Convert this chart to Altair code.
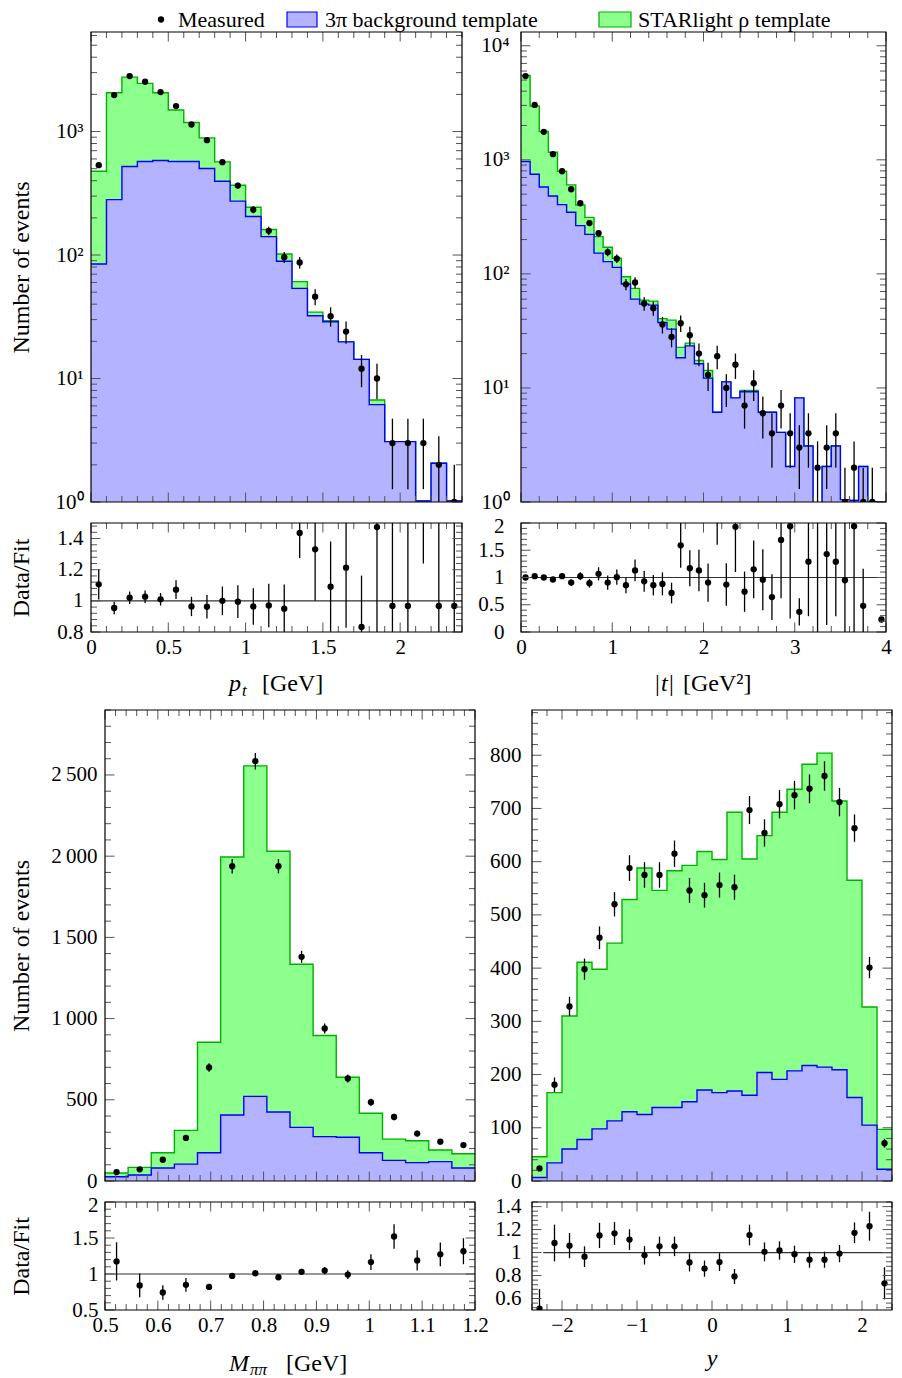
import altair as alt
import pandas as pd
import numpy as np

FONT = "Liberation Serif"
LABEL_SIZE = 21
TITLE_SIZE = 24
GREEN_FILL = "#8cff8c"
GREEN_LINE = "#00b000"
BLUE_FILL = "#b3b3ff"
BLUE_LINE = "#0000ff"
TICK_COLOR = "#555555"
MAJ, MIN = 9.5, 6.0

legend_labels = ["Measured", "3π background template", "STARlight ρ template"]

# ---------------- p_t ----------------
pt_lo, pt_bw = 0.0, 0.1
pt_total = [477, 2060, 2760, 2455, 2060, 1493, 1185, 889, 568, 367, 244, 161, 102,
            60.9, 34.5, 29.4, 19.8, 14.3, 6.7, 3.08, 3.08, 1.02, 2.06, 1.02]
pt_bkg = [84.5, 281, 521, 572, 583, 572, 572, 502, 396, 273, 205, 141, 89,
          53.7, 32.2, 28.8, 19.8, 14.3, 6.15, 3.08, 3.08, 1.02, 2.06, 1.02]
pt_meas = [534, 1973, 2813, 2530, 2088, 1607, 1141, 851, 565, 365, 233, 157, 96,
           87, 46, 32, 24, 12, 10, 3, 3, 3, 2, 1]
pt_err = [23.1, 44.4, 53.0, 50.3, 45.7, 40.1, 33.8, 29.2, 23.8, 19.1, 15.3, 12.5, 9.8,
          9.3, 6.8, 5.7, 4.9, 3.5, 3.2, 1.73, 1.73, 1.73, 1.41, 1.0]
pt_ratio = [1.106, 0.954, 1.020, 1.027, 1.010, 1.072, 0.964, 0.962, 1.000, 0.995, 0.964, 0.970,
            0.950, 1.436, 1.331, 1.091, 1.213, 0.832, 1.474, 0.967, 0.967, 2.94, 0.967, 0.967]
pt_ratio_err = [0.097, 0.04, 0.04, 0.04, 0.04, 0.06, 0.062, 0.075, 0.092, 0.105, 0.117, 0.14,
                0.155, 0.16, 0.33, 0.29, 0.385, 0.33, 0.85, 0.56, 0.56, 1.7, 0.69, 0.98]

# ---------------- |t| ----------------
tt_lo, tt_bw = 0.0, 0.1
tt_total = [5500, 2960, 1770, 1166, 794, 603, 402, 313, 212, 171, 137, 94.5, 74.6, 58.9, 57.7,
            40.5, 39.3, 22.7, 24.7, 17.4, 14.2, 6.12, 11.3, 8.18, 9.49, 9.49, 6.12, 6.12, 4.08,
            2.05, 8.18, 3.10, 0.6, 2.05, 3.10, 1.05, 1.03, 2.05, 1.0, 1.0]
tt_bkg = [966, 748, 578, 482, 405, 347, 265, 222, 152, 128, 114, 81.4, 60.1, 54.3, 53.2,
          37.5, 32.8, 18.4, 23.4, 16.3, 12.2, 6.12, 11.3, 8.18, 9.25, 9.25, 6.12, 6.12, 4.08,
          2.05, 8.18, 3.10, 0.6, 2.05, 3.10, 1.05, 1.03, 2.05, 1.0, 1.0]
tt_meas = [5420, 3030, 1758, 1120, 794, 552, 416, 279, 227, 155, 136, 81, 84, 55, 50,
           36, 28, 37, 29, 20, 13, 19, 10, 16, 7, 11, 6, 4, 7, 4, 3, 4, 2, 3, 4, 1, 2, 1, 1,
           float("nan")]
tt_err = [73.6, 55.0, 41.9, 33.5, 28.2, 23.5, 20.4, 16.7, 15.1, 12.4, 11.7, 9.0, 9.2, 7.4, 7.1,
          6.0, 5.3, 6.1, 5.4, 4.5, 3.6, 4.4, 3.2, 4.0, 2.6, 3.3, 2.4, 2.0, 2.6, 2.0, 1.7, 2.0,
          1.4, 1.7, 2.0, 1.0, 1.4, 1.0, 1.0, float("nan")]
tt_ratio = [1.0, 1.025, 1.0, 0.963, 1.025, 0.907, 1.025, 0.895, 1.068, 0.907, 1.006, 0.858, 1.13,
            0.93, 0.858, 0.883, 0.715, 1.59, 1.17, 1.13, 0.907, 3.09, 0.87, 1.93, 0.74, 1.15,
            0.96, 0.64, 1.69, 1.94, 0.37, 1.29, 3.3, 1.43, 1.29, 0.95, 1.94, 0.48, float("nan"), 0.23]
tt_ratio_err = [0.02, 0.025, 0.03, 0.035, 0.04, 0.06, 0.07, 0.08, 0.12, 0.13, 0.14, 0.146, 0.2,
                0.19, 0.19, 0.21, 0.19, 0.41, 0.33, 0.38, 0.35, 1.49, 0.39, 0.83, 0.37, 0.53,
                0.56, 0.42, 1.07, 1.69, 0.25, 1.0, 3.3, 1.3, 1.0, 1.05, 1.94, 0.68, float("nan"), 0.0]

# ---------------- M_pipi ----------------
m_lo, m_bw = 0.5, 0.04375
m_total = [49, 84, 174, 312, 854, 1995, 2556, 2030, 1335, 896, 639, 417, 258, 248, 191, 168]
m_bkg = [26, 37, 80, 104, 174, 406, 521, 425, 330, 273, 269, 174, 127, 113, 119, 80]
m_meas = [55, 72, 131, 265, 699, 1938, 2585, 1938, 1380, 939, 631, 485, 394, 292, 242, 221]
m_err = [7.4, 8.5, 11.4, 16.3, 26.4, 44.0, 50.8, 44.0, 37.1, 30.6, 25.1, 22.0, 19.8, 17.1, 15.6, 14.9]
m_ratio = [1.175, 0.842, 0.743, 0.85, 0.82, 0.973, 1.01, 0.955, 1.03, 1.048, 0.992, 1.165,
           1.521, 1.189, 1.273, 1.316]
m_ratio_err = [0.265, 0.165, 0.1, 0.095, 0.035, 0.03, 0.025, 0.025, 0.04, 0.05, 0.06, 0.11,
               0.17, 0.14, 0.165, 0.18]

# ---------------- rapidity y ----------------
y_lo, y_bw = -2.4, 0.2
y_total = [45.6, 166, 310, 411, 398, 447, 529, 588, 546, 583, 593, 619, 604, 693, 605, 649,
           693, 736, 783, 804, 714, 565, 327, 97]
y_bkg = [6.6, 34, 60, 78, 98, 113, 130, 125, 138, 138, 149, 171, 166, 169, 161, 204,
         191, 207, 217, 214, 209, 157, 105, 22]
y_meas = [23.6, 181, 328, 398, 457, 520, 588, 575, 575, 615, 546, 537, 556, 552, 697, 654,
          708, 725, 737, 761, 712, 663, 401, 71]
y_err = [4.9, 13.5, 18.1, 19.9, 21.4, 22.8, 24.2, 24.0, 24.0, 24.8, 23.4, 23.2, 23.6, 23.5, 26.4,
         25.6, 26.6, 26.9, 27.1, 27.6, 26.7, 25.7, 20.0, 8.4]
y_ratio = [0.512, 1.083, 1.06, 0.964, 1.149, 1.167, 1.113, 0.976, 1.054, 1.054, 0.914, 0.860,
           0.917, 0.792, 1.152, 1.006, 1.018, 0.985, 0.938, 0.938, 0.991, 1.172, 1.229, 0.732]
y_ratio_err = [0.17, 0.16, 0.11, 0.09, 0.11, 0.1, 0.09, 0.08, 0.085, 0.085, 0.078, 0.07,
               0.078, 0.065, 0.09, 0.082, 0.08, 0.075, 0.07, 0.07, 0.075, 0.09, 0.126, 0.14]


# ---------------- helpers ----------------
def edges_of(lo, bw, n):
    return [round(lo + i * bw, 6) for i in range(n + 1)]


def centers_of(lo, bw, n):
    return [round(lo + (i + 0.5) * bw, 6) for i in range(n)]


def minor_ticks(lo, hi, step, majors):
    vals = np.round(np.arange(lo, hi + step * 0.01, step), 6)
    return [float(v) for v in vals if all(abs(v - m) > 1e-6 for m in majors) and lo <= v <= hi]


def log_minor(dmax):
    out = []
    for dec in [1, 10, 100, 1000, 10000]:
        for k in range(2, 10):
            if k * dec <= dmax:
                out.append(k * dec)
    return out


LOG_EXPR = ("datum.value == 1 ? '10⁰' : datum.value == 10 ? '10¹' : datum.value == 100 ? '10²' : "
            "datum.value == 1000 ? '10³' : '10⁴'")
NUM_EXPR = "format(datum.value, '~g')"
THOUS_EXPR = "datum.value >= 1000 ? replace(format(datum.value, ','), ',', '\u2009') : format(datum.value, 'd')"


def y_axis(values, expr, pad, title=None, extent=58, shift=0, top_value=None):
    kw = dict(values=values, labelExpr=expr, ticks=False, tickSize=0, domain=False, grid=False,
              labelPadding=pad, labelFlush=False, labelOverlap=False)
    if shift:
        kw["offset"] = -shift
    if top_value is not None:
        kw["labelOffset"] = {"condition": {"test": "datum.value == %s" % top_value, "value": 3}, "value": 0}
    if title:
        kw.update(title=title, minExtent=extent, maxExtent=extent, titlePadding=0)
    else:
        kw.update(title="")
    return alt.Axis(**kw)


def x_axis_labels(values, pad=4):
    return alt.Axis(values=values, labelExpr=NUM_EXPR, ticks=False, tickSize=0, domain=False,
                    grid=False, labelPadding=pad, labelFlush=False, labelOverlap=False, title="")


def tick_layers(xs, ys, xaxis, yaxis, xmaj, xmin, ymaj, ymin, W, H, x0):
    layers = []
    for vals, L in ((xmaj, MAJ), (xmin, MIN)):
        base = alt.Chart(pd.DataFrame({"tv": vals})).mark_rule(color=TICK_COLOR, strokeWidth=1)
        layers.append(base.encode(x=alt.X("tv:Q", scale=xs, axis=xaxis), y=alt.value(H), y2=alt.value(H - L)))
        layers.append(base.encode(x=alt.X("tv:Q", scale=xs, axis=xaxis), y=alt.value(0), y2=alt.value(L)))
    for vals, L in ((ymaj, MAJ), (ymin, MIN)):
        base = alt.Chart(pd.DataFrame({"tv": vals})).mark_rule(color=TICK_COLOR, strokeWidth=1)
        layers.append(base.encode(y=alt.Y("tv:Q", scale=ys, axis=yaxis), x=alt.value(x0), x2=alt.value(x0 + L)))
        layers.append(base.encode(y=alt.Y("tv:Q", scale=ys, axis=yaxis), x=alt.value(W), x2=alt.value(W - L)))
    return layers


def border(W, H, x0):
    return alt.Chart(pd.DataFrame({"b": [0]})).mark_rect(filled=False, stroke="black", strokeWidth=1.2).encode(
        x=alt.value(x0), x2=alt.value(W), y=alt.value(0), y2=alt.value(H))


def xscale(dom, x0):
    if x0:
        return alt.Scale(domain=dom, nice=False, zero=False, rangeMin=x0)
    return alt.Scale(domain=dom, nice=False, zero=False)


def points_layers(xc, v, e, xs, ys, xaxis, yaxis, floor_val):
    df = pd.DataFrame({"xc": xc, "v": v, "e": e})
    df["lo"] = (df["v"] - df["e"]).clip(lower=floor_val)
    df["hi"] = df["v"] + df["e"]
    bars = alt.Chart(df).mark_rule(color="black", strokeWidth=1.3, clip=True).encode(
        x=alt.X("xc:Q", scale=xs, axis=xaxis), y=alt.Y("lo:Q", scale=ys, axis=yaxis), y2="hi:Q")
    dots = alt.Chart(df).mark_circle(color="black", size=40, opacity=1, clip=True).encode(
        x=alt.X("xc:Q", scale=xs, axis=xaxis), y=alt.Y("v:Q", scale=ys, axis=yaxis))
    return [bars, dots]


def main_panel(lo, bw, total, bkg, meas, err, xdom, ydom, log, W, H, x0,
               xmaj, xmin, ymaj, ymin, ylabpad, ytitle=None):
    n = len(total)
    ed = edges_of(lo, bw, n)
    base_val = ydom[0] if log else 0
    steps = pd.DataFrame({"x": ed, "tot": list(total) + [total[-1]], "bkg": list(bkg) + [bkg[-1]],
                          "base": [base_val] * (n + 1)})
    xs = xscale(xdom, x0)
    ys = alt.Scale(type="log", domain=ydom, nice=False) if log else alt.Scale(domain=ydom, nice=False, zero=False)
    yaxis = y_axis(ymaj, LOG_EXPR if log else THOUS_EXPR, ylabpad, ytitle,
                   extent=58 + x0, shift=x0)
    xaxis = None
    X = lambda f: alt.X(f + ":Q", scale=xs, axis=xaxis)
    Y = lambda f: alt.Y(f + ":Q", scale=ys, axis=yaxis, stack=None)
    sc = alt.Chart(steps)
    layers = [
        sc.mark_area(interpolate="step-after", color=GREEN_FILL, opacity=1, clip=True).encode(x=X("x"), y=Y("tot"), y2="base:Q"),
        sc.mark_line(interpolate="step-after", color=GREEN_LINE, strokeWidth=1.4, clip=True).encode(x=X("x"), y=Y("tot")),
        sc.mark_area(interpolate="step-after", color=BLUE_FILL, opacity=1, clip=True).encode(x=X("x"), y=Y("bkg"), y2="base:Q"),
        sc.mark_line(interpolate="step-after", color=BLUE_LINE, strokeWidth=1.4, clip=True).encode(x=X("x"), y=Y("bkg")),
    ]
    floor_val = ydom[0] * 0.01 if log else ydom[0] - 1
    layers += points_layers(centers_of(lo, bw, n), meas, err, xs, ys, xaxis, yaxis, floor_val)
    layers += tick_layers(xs, ys, xaxis, yaxis, xmaj, xmin, ymaj, ymin, W, H, x0)
    layers.append(border(W, H, x0))
    return alt.layer(*layers).properties(width=W, height=H)


def text_piece(txt, x, y, size=TITLE_SIZE, italic=False, align="left"):
    kw = dict(align=align, baseline="alphabetic", font=FONT, fontSize=size, color="black")
    if italic:
        kw["fontStyle"] = "italic"
    return alt.Chart(pd.DataFrame({"t": [txt]})).mark_text(**kw).encode(
        x=alt.value(x), y=alt.value(y), text="t:N")


def ratio_panel(lo, bw, ratio, rerr, xdom, ydom, W, H, x0, xmaj, xmin, ymaj, ymin, ylabpad,
                line_start, pieces, ytitle=None, top_value=None):
    n = len(ratio)
    xs = xscale(xdom, x0)
    ys = alt.Scale(domain=ydom, nice=False, zero=False)
    yaxis = y_axis(ymaj, NUM_EXPR, ylabpad, ytitle, extent=58 + x0, shift=x0, top_value=top_value)
    xaxis = x_axis_labels(xmaj)
    one = pd.DataFrame({"xa": [line_start], "xb": [xdom[1]], "one": [1.0]})
    layers = [alt.Chart(one).mark_rule(color="#333333", strokeWidth=1.2).encode(
        x=alt.X("xa:Q", scale=xs, axis=xaxis), x2="xb:Q", y=alt.Y("one:Q", scale=ys, axis=yaxis))]
    layers += points_layers(centers_of(lo, bw, n), ratio, rerr, xs, ys, xaxis, yaxis, ydom[0] - 1)
    layers += tick_layers(xs, ys, xaxis, yaxis, xmaj, xmin, ymaj, ymin, W, H, x0)
    layers.append(border(W, H, x0))
    for (txt, dx, dy, size, italic, align) in pieces:
        layers.append(text_piece(txt, x0 + dx, H + dy, size, italic, align))
    return alt.layer(*layers).properties(width=W, height=H)


# ---------------- panels ----------------
TLW, TRW, BLW, BRW = 371, 365, 384, 360
BL_X0 = 14

pt_xmaj = [0, 0.5, 1, 1.5, 2]
pt_xmin = minor_ticks(0, 2.4, 0.1, pt_xmaj)
tl_main = main_panel(pt_lo, pt_bw, pt_total, pt_bkg, pt_meas, pt_err, [0, 2.4], [1, 6400], True,
                     TLW, 470, 0, pt_xmaj, pt_xmin, [1, 10, 100, 1000], log_minor(6400), 8,
                     "Number of events")
tl_ratio = ratio_panel(pt_lo, pt_bw, pt_ratio, pt_ratio_err, [0, 2.4], [0.8, 1.5], TLW, 109, 0,
                       pt_xmaj, pt_xmin, [0.8, 1, 1.2, 1.4], minor_ticks(0.8, 1.5, 0.04, [0.8, 1, 1.2, 1.4]),
                       8, 0.0,
                       [("p", 138, 59, TITLE_SIZE, True, "left"),
                        ("t", 151, 64, 17, True, "left"),
                        ("[GeV]", 171, 59, TITLE_SIZE, False, "left")],
                       "Data/Fit")

tt_xmaj = [0, 1, 2, 3, 4]
tt_xmin = minor_ticks(0, 4, 0.2, tt_xmaj)
tr_main = main_panel(tt_lo, tt_bw, tt_total, tt_bkg, tt_meas, tt_err, [0, 4], [1, 13200], True,
                     TRW, 470, 0, tt_xmaj, tt_xmin, [1, 10, 100, 1000, 10000], log_minor(13200), 12)
tr_ratio = ratio_panel(tt_lo, tt_bw, tt_ratio, tt_ratio_err, [0, 4], [0, 2], TRW, 109, 0,
                       tt_xmaj, tt_xmin, [0, 0.5, 1, 1.5, 2], minor_ticks(0, 2, 0.1, [0, 0.5, 1, 1.5, 2]),
                       17, 0.0,
                       [("|", 134, 59, TITLE_SIZE, False, "left"),
                        ("t", 140, 59, TITLE_SIZE, True, "left"),
                        ("|", 148, 59, TITLE_SIZE, False, "left"),
                        ("[GeV²]", 162, 59, TITLE_SIZE, False, "left")],
                       top_value=2)

m_xmaj = [0.5, 0.6, 0.7, 0.8, 0.9, 1.0, 1.1, 1.2]
m_xmin = minor_ticks(0.5, 1.2, 0.02, m_xmaj)
bl_main = main_panel(m_lo, m_bw, m_total, m_bkg, m_meas, m_err, [0.5, 1.2], [0, 2900], False,
                     BLW, 471, BL_X0, m_xmaj, m_xmin, [0, 500, 1000, 1500, 2000, 2500],
                     minor_ticks(0, 2900, 100, [0, 500, 1000, 1500, 2000, 2500]), 8,
                     "Number of events")
bl_ratio = ratio_panel(m_lo, m_bw, m_ratio, m_ratio_err, [0.5, 1.2], [0.5, 2], BLW, 108, BL_X0,
                       m_xmaj, m_xmin, [0.5, 1, 1.5, 2], minor_ticks(0.5, 2, 0.1, [0.5, 1, 1.5, 2]),
                       7, 0.5,
                       [("M", 124, 61, TITLE_SIZE, True, "left"),
                        ("ππ", 145, 65, 17, True, "left"),
                        ("[GeV]", 181, 61, TITLE_SIZE, False, "left")],
                       "Data/Fit", top_value=2)

y_xmaj = [-2, -1, 0, 1, 2]
y_xmin = minor_ticks(-2.4, 2.4, 0.2, y_xmaj)
br_main = main_panel(y_lo, y_bw, y_total, y_bkg, y_meas, y_err, [-2.4, 2.4], [0, 885], False,
                     BRW, 471, 0, y_xmaj, y_xmin, [0, 100, 200, 300, 400, 500, 600, 700, 800],
                     minor_ticks(0, 885, 20, [0, 100, 200, 300, 400, 500, 600, 700, 800]), 11)
br_ratio = ratio_panel(y_lo, y_bw, y_ratio, y_ratio_err, [-2.4, 2.4], [0.5, 1.44], BRW, 108, 0,
                       y_xmaj, y_xmin, [0.6, 0.8, 1, 1.2, 1.4],
                       minor_ticks(0.52, 1.44, 0.04, [0.6, 0.8, 1, 1.2, 1.4]),
                       11, -2.25,
                       [("y", BRW / 2, 56, TITLE_SIZE, True, "center")])

# ---------------- legend ----------------
leg_df = pd.DataFrame({"label": legend_labels})
LEG_Y = 17.6
LEG_FS = 22
legend = alt.layer(
    alt.Chart(leg_df).transform_filter(alt.datum.label == legend_labels[0]).mark_circle(
        color="black", size=40, opacity=1).encode(x=alt.value(70), y=alt.value(10.5)),
    alt.Chart(leg_df).transform_filter(alt.datum.label == legend_labels[0]).mark_text(
        align="left", baseline="alphabetic", font=FONT, fontSize=LEG_FS, color="black").encode(
        x=alt.value(87), y=alt.value(LEG_Y), text="label:N"),
    alt.Chart(leg_df).transform_filter(alt.datum.label == legend_labels[1]).mark_rect(
        fill=BLUE_FILL, stroke=BLUE_LINE, strokeWidth=1.2).encode(
        x=alt.value(196), x2=alt.value(226), y=alt.value(3), y2=alt.value(18)),
    alt.Chart(leg_df).transform_filter(alt.datum.label == legend_labels[1]).mark_text(
        align="left", baseline="alphabetic", font=FONT, fontSize=LEG_FS, color="black").encode(
        x=alt.value(234), y=alt.value(LEG_Y), text="label:N"),
    alt.Chart(leg_df).transform_filter(alt.datum.label == legend_labels[2]).mark_rect(
        fill=GREEN_FILL, stroke=GREEN_LINE, strokeWidth=1.2).encode(
        x=alt.value(508), x2=alt.value(540), y=alt.value(3), y2=alt.value(18)),
    alt.Chart(leg_df).transform_filter(alt.datum.label == legend_labels[2]).mark_text(
        align="left", baseline="alphabetic", font=FONT, fontSize=LEG_FS, color="black").encode(
        x=alt.value(547), y=alt.value(LEG_Y), text="label:N"),
).properties(width=780, height=22)

# ---------------- layout ----------------
col_tl = alt.vconcat(tl_main, tl_ratio, spacing=21, bounds="flush")
col_tr = alt.vconcat(tr_main, tr_ratio, spacing=21, bounds="flush")
col_bl = alt.vconcat(bl_main, bl_ratio, spacing=21, bounds="flush")
col_br = alt.vconcat(br_main, br_ratio, spacing=21, bounds="flush")
row1 = alt.hconcat(col_tl, col_tr, spacing=13)
row2 = alt.hconcat(col_bl, col_br, spacing=0)
inner = alt.vconcat(row1, row2, spacing=8)

chart = alt.vconcat(legend, inner, spacing=-3).properties(padding=0).configure_view(
    stroke="transparent").configure_axis(
    labelFont=FONT, labelFontSize=LABEL_SIZE, labelColor="black",
    titleFont=FONT, titleFontSize=TITLE_SIZE, titleColor="black", titleFontWeight="normal")

chart.save("out.html", embed_options={"renderer": "svg", "actions": False})
